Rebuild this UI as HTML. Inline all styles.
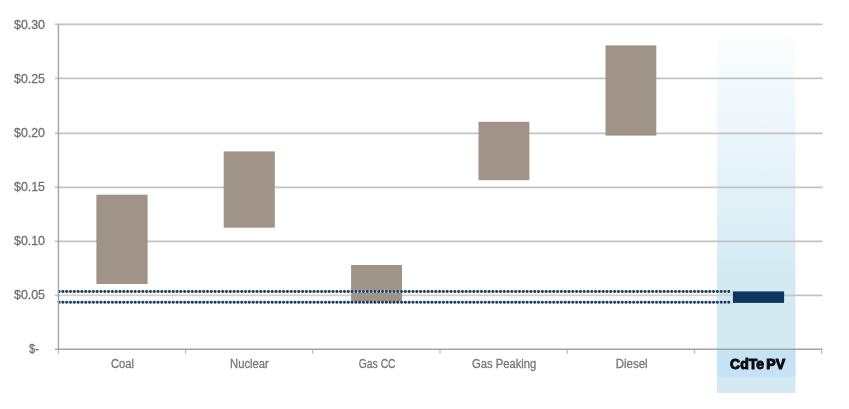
<!DOCTYPE html>
<html>
<head>
<meta charset="utf-8">
<title>LCOE comparison</title>
<style>
html,body{margin:0;padding:0;background:#fff;}
body{width:849px;height:409px;overflow:hidden;font-family:"Liberation Sans",sans-serif;}
svg{display:block;}
text{font-family:"Liberation Sans",sans-serif;}
.yl{font-size:12.2px;fill:#707070;stroke:#707070;stroke-width:0.3px;}
.xl{font-size:12px;fill:#777777;stroke:#777777;stroke-width:0.3px;}
</style>
</head>
<body>
<svg width="849" height="409" viewBox="0 0 849 409">
  <defs>
    <linearGradient id="hl" x1="0" y1="0" x2="0" y2="1">
      <stop offset="0" stop-color="#fcfeff"/>
      <stop offset="1" stop-color="#d3eaf3"/>
    </linearGradient>
  </defs>
  <rect x="0" y="0" width="849" height="409" fill="#ffffff"/>
  <!-- highlight column -->
  <rect x="717" y="34" width="78.5" height="246.5" fill="url(#hl)"/>
  <rect x="717" y="280" width="78.5" height="113" fill="#d3eaf3"/>
  <rect x="717" y="349.8" width="78.5" height="26.6" fill="#c6e2f5"/>
  <!-- gridlines -->
  <g stroke="#c4c4c4" stroke-width="1.7" fill="none">
    <line x1="55" y1="24.45" x2="822.5" y2="24.45"/>
    <line x1="55" y1="78.45" x2="822.5" y2="78.45"/>
    <line x1="55" y1="133.4" x2="822.5" y2="133.4"/>
    <line x1="55" y1="187.35" x2="822.5" y2="187.35"/>
    <line x1="55" y1="241.35" x2="822.5" y2="241.35"/>
    <line x1="55" y1="295.4" x2="60" y2="295.4"/>
    <line x1="60" y1="295.4" x2="733" y2="295.4" stroke="#d2d2d2"/>
    <line x1="733" y1="295.4" x2="822.5" y2="295.4"/>
  </g>
  <!-- bars -->
  <g fill="#a09488">
    <rect x="96.4" y="194.7" width="51.2" height="89.3"/>
    <rect x="223.7" y="151.4" width="51.1" height="76.3"/>
    <rect x="351.1" y="265" width="50.9" height="37.6"/>
    <rect x="478.5" y="121.8" width="50.9" height="58.4"/>
    <rect x="605.5" y="45.4" width="50.8" height="90.2"/>
  </g>
  <!-- dotted lines -->
  <g stroke="#c9d2dc" stroke-width="2.2" fill="none">
    <line x1="59.2" y1="291.55" x2="731" y2="291.55"/>
    <line x1="59.2" y1="302.3" x2="731" y2="302.3"/>
  </g>
  <g stroke="#1a3b5d" stroke-width="2.9" stroke-linecap="round" stroke-dasharray="0.01 3.795" fill="none">
    <line x1="59.1" y1="291.55" x2="731" y2="291.55"/>
    <line x1="59.1" y1="302.3" x2="731" y2="302.3"/>
  </g>
  <!-- CdTe bar -->
  <rect x="732.9" y="291.4" width="51.2" height="11.5" fill="#0d3761"/>
  <!-- axes -->
  <g stroke="#a4a4a4" stroke-width="1.4" fill="none">
    <line x1="58.45" y1="24.45" x2="58.45" y2="349.8"/>
    <line x1="55" y1="349.3" x2="822.5" y2="349.3"/>
  </g>
  <g stroke="#bcbcbc" stroke-width="1.3" fill="none">
    <line x1="58.45" y1="349.8" x2="58.45" y2="353.8"/>
    <line x1="185.6" y1="349.8" x2="185.6" y2="353.8"/>
    <line x1="312.8" y1="349.8" x2="312.8" y2="353.8"/>
    <line x1="440" y1="349.8" x2="440" y2="353.8"/>
    <line x1="567.3" y1="349.8" x2="567.3" y2="353.8"/>
    <line x1="694.5" y1="349.8" x2="694.5" y2="353.8"/>
    <line x1="821.7" y1="349.8" x2="821.7" y2="353.8"/>
  </g>
  <!-- y labels -->
  <g class="yl">
    <text x="14" y="28.8" textLength="31" lengthAdjust="spacingAndGlyphs">$0.30</text>
    <text x="14" y="82.8" textLength="31" lengthAdjust="spacingAndGlyphs">$0.25</text>
    <text x="14" y="136.8" textLength="31" lengthAdjust="spacingAndGlyphs">$0.20</text>
    <text x="14" y="190.8" textLength="31" lengthAdjust="spacingAndGlyphs">$0.15</text>
    <text x="14" y="244.8" textLength="31" lengthAdjust="spacingAndGlyphs">$0.10</text>
    <text x="14" y="298.8" textLength="31" lengthAdjust="spacingAndGlyphs">$0.05</text>
    <text x="29" y="352.9" textLength="10" lengthAdjust="spacingAndGlyphs">$-</text>
  </g>
  <!-- x labels -->
  <g class="xl">
    <text x="111" y="368" textLength="23" lengthAdjust="spacingAndGlyphs">Coal</text>
    <text x="230" y="368" textLength="38.8" lengthAdjust="spacingAndGlyphs">Nuclear</text>
    <text x="358.8" y="368" textLength="36.8" lengthAdjust="spacingAndGlyphs">Gas CC</text>
    <text x="472" y="368" textLength="64.3" lengthAdjust="spacingAndGlyphs">Gas Peaking</text>
    <text x="615.8" y="368" textLength="31.8" lengthAdjust="spacingAndGlyphs">Diesel</text>
  </g>
  <text y="368.5" font-size="13.9" font-weight="bold" fill="#0a0a0a" stroke="#0a0a0a" stroke-width="1.0" stroke-linejoin="round"><tspan x="730.1" textLength="33.8" lengthAdjust="spacingAndGlyphs">CdTe</tspan> <tspan x="766.3" textLength="18.8" lengthAdjust="spacingAndGlyphs">PV</tspan></text>
</svg>
</body>
</html>
